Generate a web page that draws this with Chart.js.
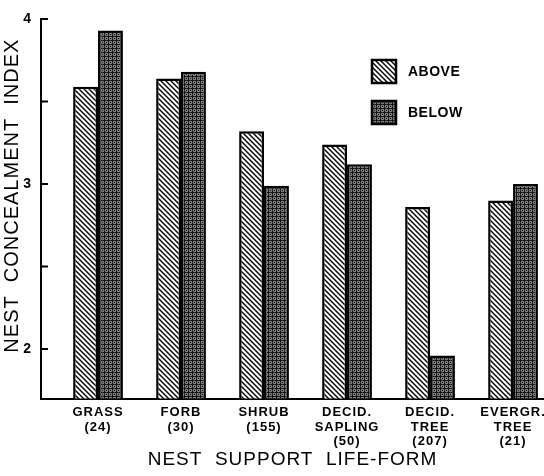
<!DOCTYPE html>
<html><head><meta charset="utf-8">
<script src="https://cdn.jsdelivr.net/npm/chart.js@4/dist/chart.umd.min.js"></script>
<style>html,body{margin:0;padding:0;background:#fff;overflow:hidden}#wrap{width:544px;height:476px;position:relative}</style>
</head><body><div id="wrap"><canvas id="c"></canvas></div>
<script>
const categories = [["GRASS","(24)"],["FORB","(30)"],["SHRUB","(155)"],["DECID.","SAPLING","(50)"],["DECID.","TREE","(207)"],["EVERGR.","TREE","(21)"]];
const seriesNames = ["ABOVE","BELOW"];
const aboveValues = [3.59,3.64,3.32,3.24,2.86,2.90];
const belowValues = [3.93,3.68,2.99,3.12,1.96,3.00];
const yTicks = [2,2.5,3,3.5,4];
const yLabelTicks = [2,3,4];
const xTitle = "NEST\u00A0\u00A0SUPPORT\u00A0\u00A0LIFE-FORM";
const yTitle = "\u00A0\u00A0\u00A0\u00A0NEST\u00A0\u00A0CONCEALMENT\u00A0\u00A0INDEX";

const ctx = document.getElementById('c').getContext('2d');

function hatchPattern(){
  const c=document.createElement('canvas');c.width=c.height=5;
  const g=c.getContext('2d');
  g.fillStyle='#fff';g.fillRect(0,0,5,5);
  g.strokeStyle='#000';g.lineWidth=1.4;g.beginPath();
  g.moveTo(-1,-1);g.lineTo(6,6);
  g.moveTo(-1,4);g.lineTo(1,6);
  g.moveTo(4,-1);g.lineTo(6,1);
  g.stroke();
  return ctx.createPattern(c,'repeat');
}
function darkPattern(){
  const c=document.createElement('canvas');c.width=c.height=4;
  const g=c.getContext('2d');
  g.fillStyle='#7a7a7a';g.fillRect(0,0,4,4);
  g.fillStyle='#111';
  g.fillRect(0,0,4,1);g.fillRect(0,0,1,4);g.fillRect(2,2,1,1);
  g.fillStyle='#333';g.fillRect(2,0,1,1);g.fillRect(0,2,1,1);
  return ctx.createPattern(c,'repeat');
}
const fills=[hatchPattern(),darkPattern()];

const spacingPlugin={id:'spacing',beforeDraw(chart){chart.ctx.letterSpacing='1px';}};
const innerTicksPlugin={id:'innerTicks',afterDraw(chart){
  const {ctx,chartArea:a,scales}=chart;const ys=scales.y;
  ctx.save();ctx.strokeStyle='#000';ctx.lineWidth=2;ctx.beginPath();
  yTicks.forEach(v=>{const p=ys.getPixelForValue(v);ctx.moveTo(a.left,p);ctx.lineTo(a.left+7,p);});
  ctx.stroke();ctx.restore();
}};
const legendPlugin={id:'boxLegend',afterDraw(chart){
  const {ctx,chartArea:a}=chart;ctx.save();
  chart.data.datasets.forEach((ds,i)=>{
    const x=a.left+330,y=a.top+40+i*41;
    ctx.fillStyle=ds.backgroundColor;ctx.fillRect(x,y,26,25);
    ctx.lineWidth=2.5;ctx.strokeStyle='#000';ctx.strokeRect(x+1,y+1,24,23);
    ctx.fillStyle='#000';ctx.font='bold 14px "Liberation Sans"';ctx.letterSpacing='0.5px';
    ctx.textBaseline='middle';ctx.textAlign='left';
    ctx.fillText(ds.label,x+37,y+13);
  });
  ctx.restore();
}};

new Chart(ctx,{
  type:'bar',
  data:{datasets:[
    {label:seriesNames[0],data:aboveValues.map((v,i)=>({x:i,y:v})),backgroundColor:fills[0],borderColor:'#000',borderWidth:2.5,borderSkipped:false},
    {label:seriesNames[1],data:belowValues.map((v,i)=>({x:i,y:v})),backgroundColor:fills[1],borderColor:'#000',borderWidth:2.5,borderSkipped:false}
  ]},
  options:{
    responsive:true,maintainAspectRatio:false,animation:false,
    layout:{padding:{left:0,right:0,top:19,bottom:0}},
    datasets:{bar:{categoryPercentage:0.6,barPercentage:1}},
    plugins:{legend:{display:false},tooltip:{enabled:false}},
    scales:{
      x:{type:'linear',offset:false,min:-0.687,max:5.373,
        afterBuildTicks:s=>{s.ticks=categories.map((c,i)=>({value:i}));},
        afterFit:s=>{s.height=77.5;s.paddingLeft=0;s.paddingRight=0;},
        grid:{display:false,drawTicks:false},
        border:{display:true,color:'#000',width:2},
        ticks:{autoSkip:false,maxRotation:0,minRotation:0,padding:6,color:'#000',
          font:{family:'Liberation Sans',size:13,weight:'bold',lineHeight:1.15},
          callback:(v)=>categories[v]},
        title:{display:true,text:xTitle,color:'#000',font:{family:'Liberation Sans',size:19,lineHeight:1.2},padding:{top:0,bottom:5}}
      },
      y:{min:1.7,max:4,
        afterBuildTicks:s=>{s.ticks=yTicks.map(v=>({value:v}));},
        afterFit:s=>{s.width=41;s.paddingTop=0;s.paddingBottom=0;},
        grid:{drawOnChartArea:false,drawTicks:false},
        border:{display:true,color:'#000',width:2},
        ticks:{padding:9,color:'#000',font:{family:'Liberation Sans',size:14,weight:'bold'},
          callback:v=>yLabelTicks.includes(v)?String(v):''},
        title:{display:true,text:yTitle,color:'#000',font:{family:'Liberation Sans',size:20,lineHeight:1.2},padding:{top:0,bottom:0}}
      }
    }
  },
  plugins:[spacingPlugin,innerTicksPlugin,legendPlugin]
});
</script></body></html>
